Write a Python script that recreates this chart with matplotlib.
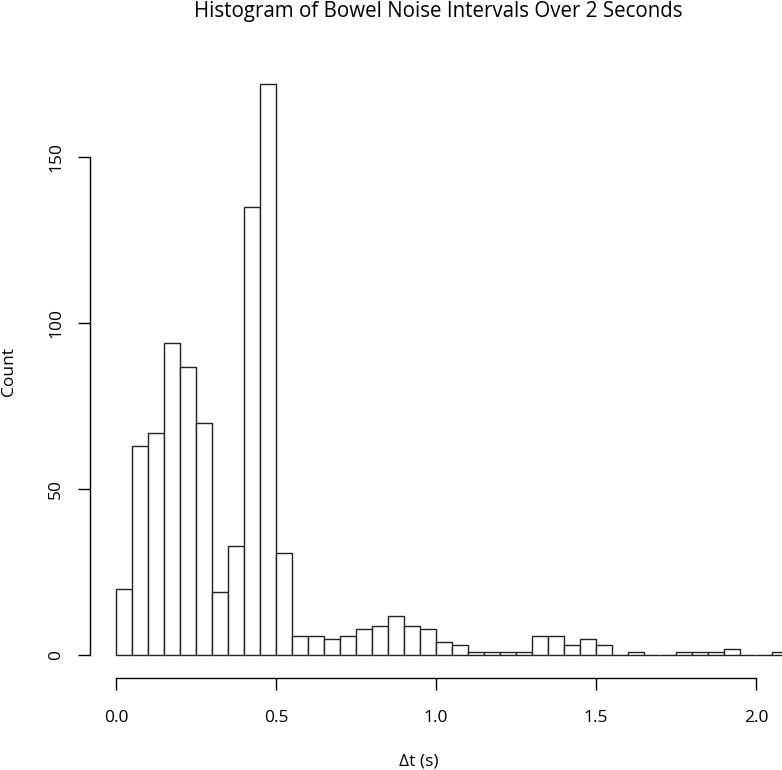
import numpy as np
import matplotlib
matplotlib.use("Agg")
import matplotlib.pyplot as plt

# histogram bins: 0.05 s wide starting at 0
bin_width = 0.05
counts = [20, 63, 67, 94, 87, 70, 19, 33, 135, 172,
          31, 6, 6, 5, 6, 8, 9, 12, 9, 8,
          4, 3, 1, 1, 1, 1, 6, 6, 3, 5,
          3, 0, 1, 0, 0, 1, 1, 1, 2, 0,
          0, 1]
x_ticks = [0.0, 0.5, 1.0, 1.5, 2.0]
x_tick_labels = ["0.0", "0.5", "1.0", "1.5", "2.0"]
y_ticks = [0, 50, 100, 150]

title = "Histogram of Bowel Noise Intervals Over 2 Seconds"
xlabel = "\u0394t (s)"
ylabel = "Count"

plt.rcParams["font.family"] = ["Open Sans", "DejaVu Sans"]

W, H = 782, 770
fig = plt.figure(figsize=(W / 100, H / 100), dpi=100)
# plot region in pixels (R style, extends past right edge of the crop)
left, right, top, bottom = 90, 790, 61.6, 678.3
ax = fig.add_axes([left / W, 1 - bottom / H, (right - left) / W, (bottom - top) / H])

edges = np.arange(len(counts)) * bin_width
ax.bar(edges, counts, width=bin_width, align="edge", color="white",
       edgecolor="#222222", linewidth=1.0, clip_on=False)

ax.set_xlim(-0.08125, (right - 116) / 320)
ax.set_ylim(-0.04 * max(counts), 1.04 * max(counts))

for s in ["top", "right"]:
    ax.spines[s].set_visible(False)
ax.spines["bottom"].set_bounds(x_ticks[0], x_ticks[-1])
ax.spines["left"].set_bounds(y_ticks[0], y_ticks[-1])
ax.spines["bottom"].set_linewidth(1.0)
ax.spines["left"].set_linewidth(1.0)

ax.set_xticks(x_ticks)
ax.set_xticklabels(x_tick_labels)
ax.set_yticks(y_ticks)
ax.tick_params(axis="both", direction="out", length=8.6, width=1.0,
               labelsize=12.5, color="black")
ax.tick_params(axis="x", pad=14)
ax.tick_params(axis="y", pad=10)
for lab in ax.get_yticklabels():
    lab.set_rotation(90)
    lab.set_va("center")

fig.text(438 / W, 1 - 11 / H, title, ha="center", va="center", fontsize=14.8)
fig.text(419 / W, 1 - 762 / H, xlabel, ha="center", va="center", fontsize=12.5)
fig.text(9 / W, 1 - 372 / H, ylabel, ha="center", va="center",
         rotation=90, fontsize=12.5)

fig.savefig("out.png", dpi=100)
